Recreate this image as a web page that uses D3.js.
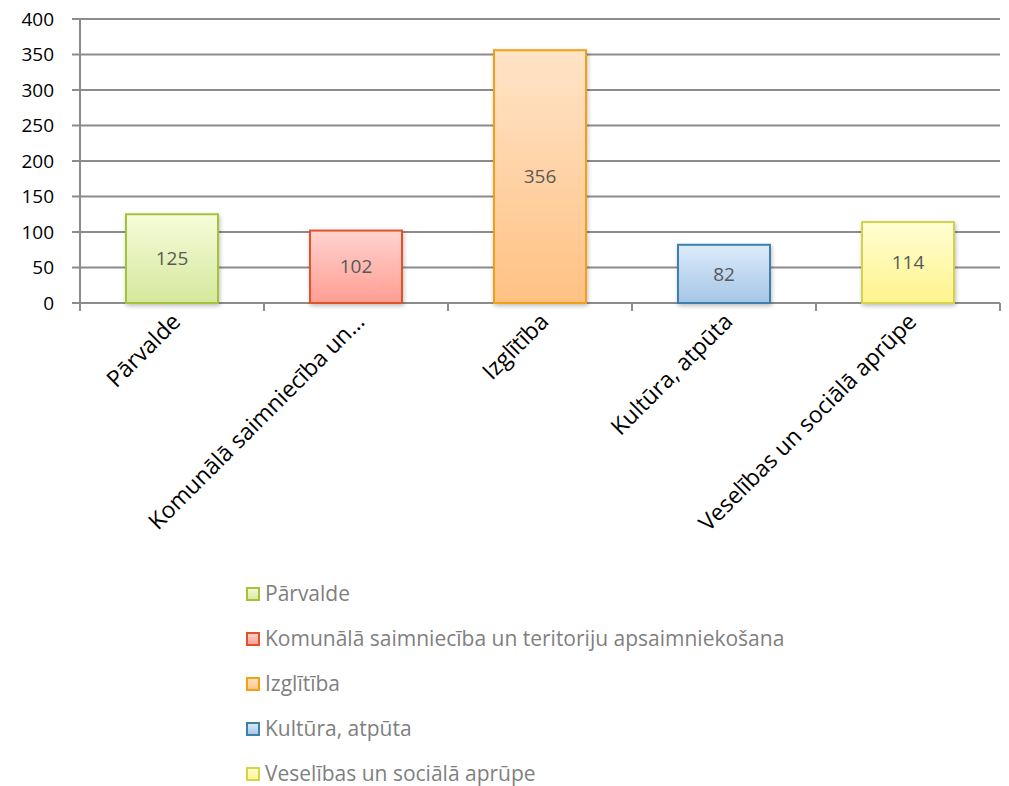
<!DOCTYPE html>
<html>
<head>
<meta charset="utf-8">
<script src="https://cdn.jsdelivr.net/npm/d3@7"></script>
<style>
  body { margin: 0; background: #fff; }
  svg text { font-family: "Open Sans", Lato, sans-serif; }
</style>
</head>
<body>
<div id="chart"></div>
<script>
// data
var categories = ["Pārvalde", "Komunālā saimniecība un teritoriju apsaimniekošana", "Izglītība", "Kultūra, atpūta", "Veselības un sociālā aprūpe"];
var axisLabels = ["Pārvalde", "Komunālā saimniecība un…", "Izglītība", "Kultūra, atpūta", "Veselības un sociālā aprūpe"];
var values = [125, 102, 356, 82, 114];
var yTicks = [0, 50, 100, 150, 200, 250, 300, 350, 400];

// colours: [top, bottom, stroke]
var palette = [
    ["#f5fcd9", "#d6e79c", "#a5c23a"],
    ["#ffd3cf", "#ff9d92", "#e2532b"],
    ["#ffe4c8", "#ffc183", "#f59f14"],
    ["#dcebfa", "#a5c6e6", "#3d80ac"],
    ["#fffed4", "#fff48c", "#d3d34c"]
];

var width = 1009, height = 786;
var margin = {top: 19, left: 80, right: 9};
var plotBottom = 303;

var svg = d3.select("#chart").append("svg")
    .attr("width", width)
    .attr("height", height);

var defs = svg.append("defs");
palette.forEach(function(p, i) {
    var g = defs.append("linearGradient")
        .attr("id", "grad" + i)
        .attr("x1", 0).attr("y1", 0).attr("x2", 0).attr("y2", 1);
    g.append("stop").attr("offset", "0%").attr("stop-color", p[0]);
    g.append("stop").attr("offset", "100%").attr("stop-color", p[1]);
});
var shadow = defs.append("filter").attr("id", "shadow")
    .attr("x", "-20%").attr("y", "-20%").attr("width", "140%").attr("height", "140%");
shadow.append("feDropShadow")
    .attr("dx", 1).attr("dy", 2).attr("stdDeviation", 2)
    .attr("flood-color", "#000").attr("flood-opacity", 0.25);

var x = d3.scaleBand()
    .domain(categories)
    .range([margin.left, width - margin.right])
    .paddingInner(0.5)
    .paddingOuter(0.25);

var y = d3.scaleLinear()
    .domain([0, 400])
    .range([plotBottom, margin.top]);

// gridlines
svg.append("g").selectAll("line")
    .data(yTicks)
    .join("line")
    .attr("x1", margin.left - 8)
    .attr("x2", width - margin.right)
    .attr("y1", d => y(d))
    .attr("y2", d => y(d))
    .attr("stroke", "#8c8c8c")
    .attr("stroke-width", 2);

// y axis line
svg.append("line")
    .attr("x1", margin.left).attr("x2", margin.left)
    .attr("y1", margin.top).attr("y2", plotBottom + 8)
    .attr("stroke", "#8c8c8c").attr("stroke-width", 2);

// category separators
var step = (width - margin.right - margin.left) / categories.length;
svg.append("g").selectAll("line")
    .data(d3.range(1, categories.length + 1))
    .join("line")
    .attr("x1", i => margin.left + i * step)
    .attr("x2", i => margin.left + i * step)
    .attr("y1", plotBottom)
    .attr("y2", plotBottom + 8)
    .attr("stroke", "#8c8c8c").attr("stroke-width", 2);

// y tick labels
svg.append("g").selectAll("text")
    .data(yTicks)
    .join("text")
    .attr("x", 54)
    .attr("y", d => y(d))
    .attr("dy", "0.35em")
    .attr("text-anchor", "end")
    .attr("font-size", 19)
    .attr("fill", "#000")
    .text(d => d);

// bars
svg.append("g").selectAll("rect")
    .data(values)
    .join("rect")
    .attr("x", (d, i) => x(categories[i]))
    .attr("y", d => y(d))
    .attr("width", x.bandwidth())
    .attr("height", d => plotBottom - y(d))
    .attr("fill", (d, i) => "url(#grad" + i + ")")
    .attr("stroke", (d, i) => palette[i][2])
    .attr("stroke-width", 2)
    .attr("filter", "url(#shadow)");

// value labels
svg.append("g").selectAll("text")
    .data(values)
    .join("text")
    .attr("x", (d, i) => x(categories[i]) + x.bandwidth() / 2)
    .attr("y", d => (y(d) + plotBottom) / 2)
    .attr("dy", "0.35em")
    .attr("text-anchor", "middle")
    .attr("font-size", 19)
    .attr("fill", "#595959")
    .text(d => d);

// category labels (rotated)
svg.append("g").selectAll("text")
    .data(axisLabels)
    .join("text")
    .attr("transform", (d, i) => "translate(" + (x(categories[i]) + x.bandwidth() / 2 + 10) + "," + (plotBottom + 20) + ") rotate(-45)")
    .attr("text-anchor", "end")
    .attr("font-size", 23)
    .attr("fill", "#000")
    .text(d => d);

// legend
var legend = svg.append("g").selectAll("g")
    .data(categories)
    .join("g")
    .attr("transform", (d, i) => "translate(247," + (594 + i * 45) + ")");

legend.append("rect")
    .attr("x", 0).attr("y", -6)
    .attr("width", 12).attr("height", 12)
    .attr("fill", (d, i) => "url(#grad" + i + ")")
    .attr("stroke", (d, i) => palette[i][2])
    .attr("stroke-width", 2);

legend.append("text")
    .attr("x", 18)
    .attr("dy", "0.35em")
    .attr("font-size", 21)
    .attr("fill", "#7f7f7f")
    .text(d => d);
</script>
</body>
</html>
